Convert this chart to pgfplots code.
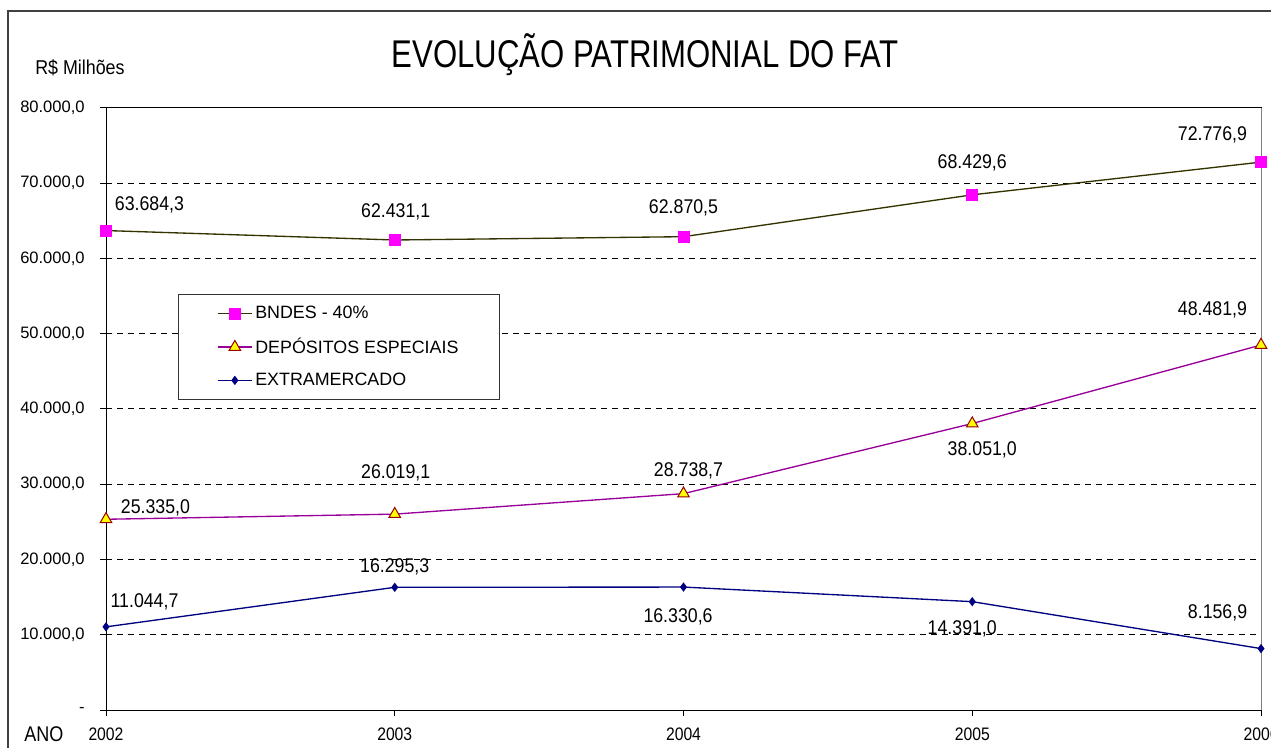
\documentclass[border=0pt]{standalone}
\usepackage{pgfplots}
\pgfplotsset{compat=1.18}
\usepackage{fontspec}
\setmainfont{Liberation Sans}
\usepackage{graphicx}
\definecolor{bndesline}{HTML}{333300}
\definecolor{bndesmark}{HTML}{FF00FF}
\definecolor{depline}{HTML}{990099}
\definecolor{depmark}{HTML}{FFFF00}
\definecolor{depdraw}{HTML}{990000}
\definecolor{extraline}{HTML}{000080}
\newcommand\lbl[1]{\scalebox{1}[1.12]{\fontsize{13.3}{16}\selectfont #1}}
\newcommand\xl[1]{\scalebox{1}[1.15]{#1}}
\pgfplotstableread{
x bndes dep extra
0 63684.3 25335.0 11044.7
1 62431.1 26019.1 16295.3
2 62870.5 28738.7 16330.6
3 68429.6 38051.0 14391.0
4 72776.9 48481.9 8156.9
}\fatdata
\begin{document}
\begin{tikzpicture}
\useasboundingbox (0,0) rectangle (953.25pt,560.25pt);
\clip (0,0) rectangle (953.25pt,560.25pt);
\fill[white] (0,0) rectangle (953.25pt,560.25pt);
\draw[line width=1.5pt, black!75] (6pt,-20pt) -- (6pt,552pt) -- (970pt,552pt);
\node[anchor=base] at (483.75pt,509.25pt) {\scalebox{0.805}[1]{\fontsize{29}{34}\selectfont EVOLUÇÃO PATRIMONIAL DO FAT}};
\node[anchor=base west, inner sep=0pt] at (26.25pt,504pt) {\scalebox{1}[1.12]{\fontsize{13.4}{16}\selectfont R\$ Milhões}};
\node[anchor=base west, inner sep=0pt] at (18pt,4pt) {\scalebox{1}[1.18]{\fontsize{13.5}{16}\selectfont ANO}};
\begin{axis}[
 at={(79.5pt,27.75pt)}, anchor=south west,
 scale only axis, width=866.25pt, height=451.7pt,
 xmin=0, xmax=4, ymin=0, ymax=80000,
 scaled y ticks=false,
 xtick={0,1,2,3,4}, xticklabels={\xl{2002},\xl{2003},\xl{2004},\xl{2005},\xl{2006}},
 ytick={0,10000,20000,30000,40000,50000,60000,70000,80000},
 yticklabels={{-\hspace{14pt}},{10.000,0},{20.000,0},{30.000,0},{40.000,0},{50.000,0},{60.000,0},{70.000,0},{80.000,0}},
 tick align=outside, xtick pos=bottom, ytick pos=left,
 major tick length=4.5pt,
 tick style={black, line width=0.75pt},
 axis line style={black, line width=0.75pt},
 ymajorgrids, grid style={black, dash pattern=on 4.5pt off 3.75pt, line width=0.6pt},
 yticklabel style={font=\fontsize{12.4}{15}\selectfont, anchor=east, xshift=-8pt},
 xticklabel style={font=\fontsize{11.8}{14}\selectfont, yshift=-5pt},
 clip=false,
 legend style={at={(0.0623,0.6907)}, anchor=north west, draw=black!80, fill=white,
   font=\fontsize{13.4}{16}\selectfont, inner xsep=29pt, inner ysep=7pt,
   row sep=9pt, cells={anchor=west}, line width=0.75pt},
 legend image code/.code={\draw[mark repeat=2,mark phase=2] plot coordinates {(0cm,0cm) (0.45cm,0cm) (0.9cm,0cm)};},
]
\addplot[bndesline, line width=1pt, mark=square*, mark size=4.1pt, mark options={draw=bndesmark, fill=bndesmark, line width=0.5pt}] table[x=x,y=bndes] {\fatdata};
\addlegendentry{BNDES - 40\%}
\addplot[depline, line width=1pt, mark=triangle*, mark size=5pt, mark options={draw=depdraw, fill=depmark, line width=0.75pt}] table[x=x,y=dep] {\fatdata};
\addlegendentry{DEPÓSITOS ESPECIAIS}
\addplot[extraline, line width=1pt, mark=diamond*, mark size=2.7pt, mark options={draw=extraline, fill=extraline}] table[x=x,y=extra] {\fatdata};
\addlegendentry{EXTRAMERCADO}
\draw[gray, line width=0.75pt] (rel axis cs:1,0) -- (rel axis cs:1,1);
% data labels
\node[xshift=32.6pt, yshift=19.1pt] at (axis cs:0,63684.3) {\lbl{63.684,3}};
\node[xshift=0.75pt, yshift=21pt] at (axis cs:1,62431.1) {\lbl{62.431,1}};
\node[xshift=0pt, yshift=21.75pt] at (axis cs:2,62870.5) {\lbl{62.870,5}};
\node[xshift=0pt, yshift=24pt] at (axis cs:3,68429.6) {\lbl{68.429,6}};
\node[xshift=-36.4pt, yshift=20.25pt] at (axis cs:4,72776.9) {\lbl{72.776,9}};
\node[xshift=37.1pt, yshift=8.25pt] at (axis cs:0,25335.0) {\lbl{25.335,0}};
\node[xshift=0.75pt, yshift=30.75pt] at (axis cs:1,26019.1) {\lbl{26.019,1}};
\node[xshift=3.75pt, yshift=17.25pt] at (axis cs:2,28738.7) {\lbl{28.738,7}};
\node[xshift=7.5pt, yshift=-19.9pt] at (axis cs:3,38051.0) {\lbl{38.051,0}};
\node[xshift=-36.4pt, yshift=26.25pt] at (axis cs:4,48481.9) {\lbl{48.481,9}};
\node[xshift=28.9pt, yshift=18.75pt] at (axis cs:0,11044.7) {\lbl{11.044,7}};
\node[xshift=0pt, yshift=15pt] at (axis cs:1,16295.3) {\lbl{16.295,3}};
\node[xshift=-4.1pt, yshift=-22.5pt] at (axis cs:2,16330.6) {\lbl{16.330,6}};
\node[xshift=-7.5pt, yshift=-20.6pt] at (axis cs:3,14391.0) {\lbl{14.391,0}};
\node[xshift=-32.6pt, yshift=26.6pt] at (axis cs:4,8156.9) {\lbl{8.156,9}};
\end{axis}
\end{tikzpicture}
\end{document}
